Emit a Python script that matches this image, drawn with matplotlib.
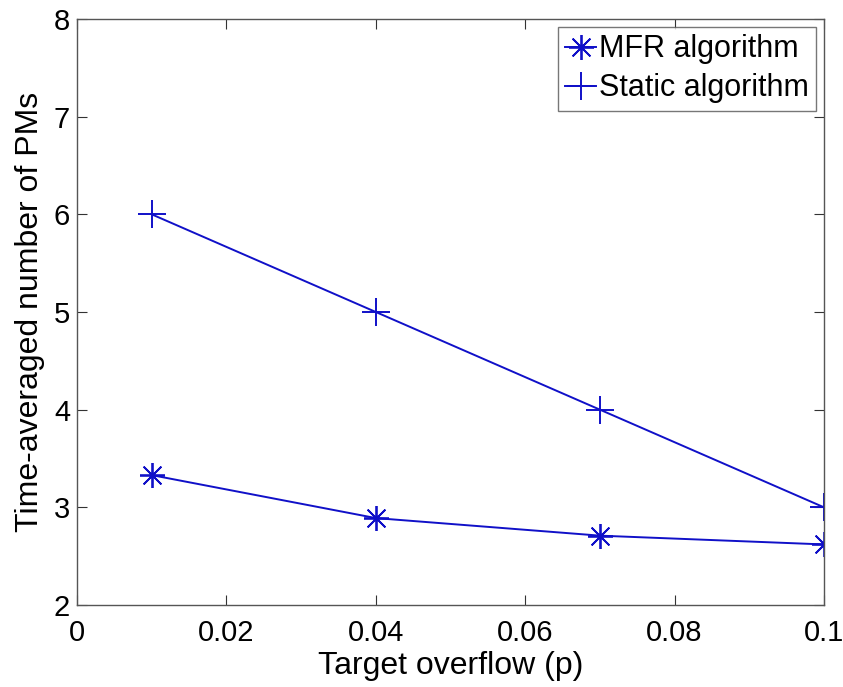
import numpy as np
import matplotlib.pyplot as plt

plt.rcParams['font.family'] = ['Liberation Sans', 'DejaVu Sans']

# Overflow target vs. average number of PMs
p = [0.01, 0.04, 0.07, 0.1]
mfr = [3.33, 2.89, 2.71, 2.62]
static = [6, 5, 4, 3]

color = '#1010c8'

fig = plt.figure(figsize=(8.43, 6.87), dpi=100)
ax = fig.add_axes([77/843, 1 - 605/687, (824-77)/843, (605-19)/687])

ax.plot(p, mfr, color=color, lw=1.4, marker=(8, 2, 0), markersize=18,
        markeredgewidth=1.3, label='MFR algorithm')
ax.plot(p, static, color=color, lw=1.4, marker='+', markersize=20,
        markeredgewidth=1.4, label='Static algorithm')

ax.set_xlim(0, 0.1)
ax.set_ylim(2, 8)
ax.set_xticks([0, 0.02, 0.04, 0.06, 0.08, 0.1])
ax.set_xticklabels(['0', '0.02', '0.04', '0.06', '0.08', '0.1'])
ax.set_yticks(range(2, 9))

ax.tick_params(direction='in', length=7, width=0.8, top=True, right=True,
               labelsize=21, color='#333333')
ax.tick_params(axis='x', pad=10)
ax.tick_params(axis='y', pad=5)
for s in ax.spines.values():
    s.set_color('#555555')
    s.set_linewidth(1.0)

ax.set_xlabel('Target overflow (p)', fontsize=23, labelpad=3)
ax.set_ylabel('Time-averaged number of PMs', fontsize=23, labelpad=6)

leg = ax.legend(loc='upper right', fontsize=22, fancybox=False,
                edgecolor='#555555', handlelength=1.0, handletextpad=0.1,
                borderpad=0.25, labelspacing=0.3, borderaxespad=0.25)
leg.get_frame().set_linewidth(1.0)

fig.savefig('out.png', dpi=100)
